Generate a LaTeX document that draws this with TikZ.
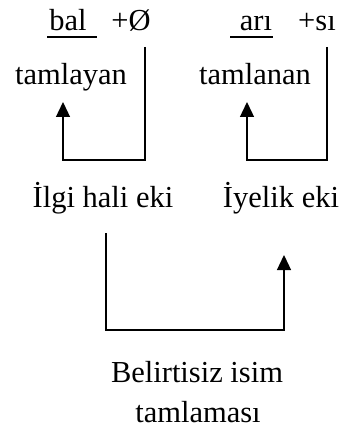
\documentclass[tikz,border=0pt]{standalone}
\usepackage{fontspec}
\setmainfont{Liberation Serif}
\usetikzlibrary{positioning,arrows.meta}

\begin{document}
\begin{tikzpicture}[x=1pt,y=-1pt,
            arrowstyle/.style={-{Triangle[length=15pt, width=14pt]}, line width=1.3pt},
            linestyle/.style={line width=1.3pt}]
            % A text style
            \tikzstyle{word} = [inner sep=0pt, anchor=base, font=\fontsize{30.5}{36}\selectfont]
            \useasboundingbox (0,0) rectangle (342,430);
            % Define the nodes
            \node (bal) [word] at (68,31) {bal};
            \node (plusO) [word] at (131,31) {+Ø};
            \node (ari) [word] at (256,31) {arı};
            \node (plusSi) [word] at (317,31) {+sı};
            \node (tamlayan) [word] at (71,85) {tamlayan};
            \node (tamlanan) [word] at (255,85) {tamlanan};
            \node (ilgi) [word] at (103,207) {İlgi hali eki};
            \node (iyelik) [word] at (281,207) {İyelik eki};
            \node (belirtisiz) [word] at (197,382) {Belirtisiz isim};
            \node (tamlamasi) [word] at (198,422) {tamlaması};

            % Corner points of the connectors
            \coordinate (startL) at (145,47);
            \coordinate (bendL) at (63,160);
            \coordinate (tipL) at (63,102);
            \coordinate (startR) at (327,47);
            \coordinate (bendR) at (247,160);
            \coordinate (tipR) at (247,102);
            \coordinate (startB) at (106,233);
            \coordinate (bendB) at (284,330);
            \coordinate (tipB) at (284,255);

            % Underlines
            \draw [linestyle] (47,37) -- (97,37);
            \draw [linestyle] (230,37) -- (273,37);

            % Draw the arrows
            \draw [arrowstyle] (startL) |- (bendL) -- (tipL);
            \draw [arrowstyle] (startR) |- (bendR) -- (tipR);
            \draw [arrowstyle] (startB) |- (bendB) -- (tipB);
        \end{tikzpicture}
\end{document}
